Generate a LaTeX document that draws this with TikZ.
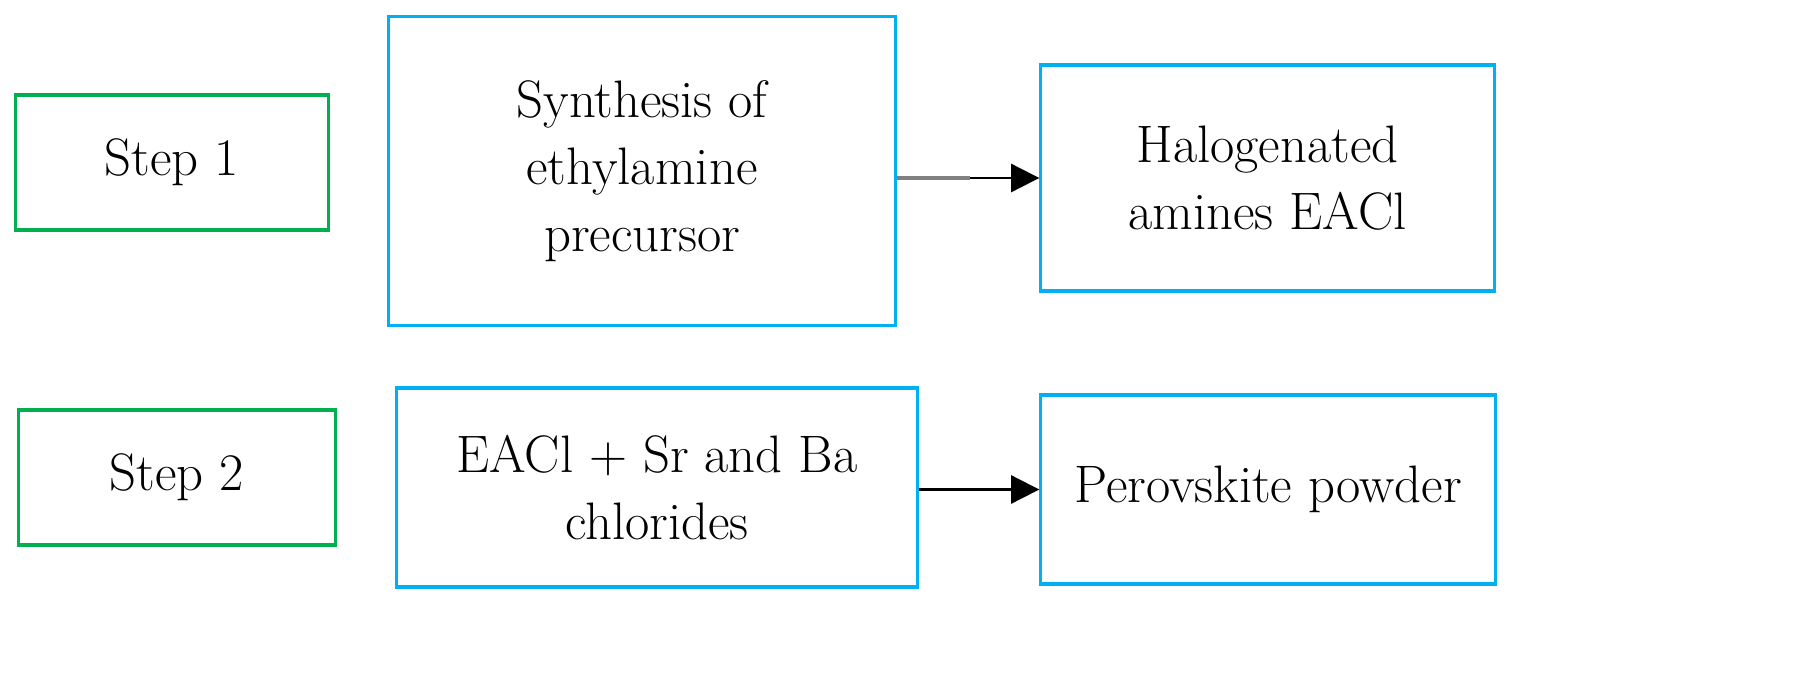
\documentclass[tikz,border=0pt]{standalone}
\usetikzlibrary{arrows.meta}
\definecolor{stepgreen}{RGB}{0,176,80}
\definecolor{boxblue}{RGB}{0,176,240}
\tikzset{
  stepbox/.style={draw=stepgreen,line width=0.9pt,align=center,font=\fontsize{15}{19}\selectfont},
  proc/.style={draw=boxblue,line width=0.9pt,align=center,font=\fontsize{15}{19}\selectfont},
  flow/.style={-{Triangle[length=8pt,width=8pt]},line width=0.6pt}
}
\begin{document}
\begin{tikzpicture}[x=0.01cm,y=0.01cm]
\useasboundingbox (0,0) rectangle (1806,696);
% row 1
\node[stepbox,minimum width=3.12cm,minimum height=1.35cm] (step1) at (172,533.5) {Step 1};
\node[proc,minimum width=5.06cm,minimum height=3.08cm] (synth) at (642,525) {Synthesis of\\ethylamine\\precursor};
\node[proc,minimum width=4.53cm,minimum height=2.26cm] (halo) at (1267.5,518) {Halogenated\\amines EACl};
% row 2
\node[stepbox,minimum width=3.16cm,minimum height=1.35cm] (step2) at (177,218.5) {Step 2};
\node[proc,minimum width=5.2cm,minimum height=1.99cm] (eacl) at (657,208.5) {EACl + Sr and Ba\\chlorides};
\node[proc,minimum width=4.54cm,minimum height=1.89cm] (perov) at (1268,206.5) {Perovskite powder};
% connectors
\coordinate (mid) at (970,518);
\draw[gray,line width=0.9pt] (synth.east |- mid) -- (mid);
\draw[flow] (mid) -- (halo.west |- mid);
\draw[flow] (eacl.east |- perov.west) -- (perov.west);
\end{tikzpicture}
\end{document}
